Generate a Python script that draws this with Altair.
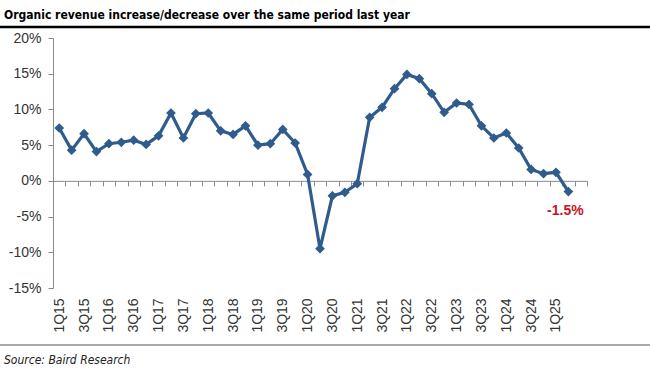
import altair as alt
import pandas as pd

quarters = [
    "1Q15", "2Q15", "3Q15", "4Q15", "1Q16", "2Q16", "3Q16", "4Q16",
    "1Q17", "2Q17", "3Q17", "4Q17", "1Q18", "2Q18", "3Q18", "4Q18",
    "1Q19", "2Q19", "3Q19", "4Q19", "1Q20", "2Q20", "3Q20", "4Q20",
    "1Q21", "2Q21", "3Q21", "4Q21", "1Q22", "2Q22", "3Q22", "4Q22",
    "1Q23", "2Q23", "3Q23", "4Q23", "1Q24", "2Q24", "3Q24", "4Q24",
    "1Q25", "2Q25",
]
growth = [
    7.4, 4.3, 6.6, 4.1, 5.2, 5.4, 5.7, 5.1,
    6.3, 9.5, 6.0, 9.4, 9.5, 7.0, 6.5, 7.7,
    5.0, 5.2, 7.2, 5.3, 0.9, -9.5, -2.1, -1.6,
    -0.4, 8.9, 10.3, 12.9, 14.9, 14.3, 12.2, 9.6,
    10.9, 10.7, 7.7, 6.0, 6.7, 4.6, 1.6, 1.0,
    1.2, -1.5,
]
# trailing empty slot on the category axis
domain = quarters + [" "]
y_ticks = [-15, -10, -5, 0, 5, 10, 15, 20]

title_text = "Organic revenue increase/decrease over the same period last year"
source_text = "Source: Baird Research"
callout_text = "-1.5%"

W, H = 534, 250
PAD_L, PAD_T = 53, 38
zero_px = H * 20 / 35

NARROW = "Liberation Sans Narrow, DejaVu Sans Condensed, Arial Narrow, Liberation Sans"

df = pd.DataFrame({"q": quarters, "v": growth})

x_enc = alt.X(
    "q:N",
    sort=domain,
    scale=alt.Scale(type="band", domain=domain, paddingInner=0, paddingOuter=0),
    axis=alt.Axis(
        title=None,
        orient="bottom",
        offset=-(H - zero_px),
        tickBand="extent",
        tickSize=5,
        tickColor="#8a8a8a",
        domainColor="#8a8a8a",
        labelAngle=-90,
        labelAlign="right",
        labelBaseline="middle",
        labelPadding=112,
        labelFont="Liberation Sans",
        labelFontSize=14,
        labelColor="#333333",
        labelExpr="test(/^[13]Q/, datum.value) ? datum.value : ''",
        labelOverlap=False,
        grid=False,
    ),
)
y_enc = alt.Y(
    "v:Q",
    scale=alt.Scale(domain=[-15, 20], nice=False, zero=False),
    axis=alt.Axis(
        title=None,
        values=y_ticks,
        tickCount=20,
        labelExpr="datum.value + '%'",
        labelOverlap=False,
        tickSize=5,
        tickColor="#8a8a8a",
        domainColor="#8a8a8a",
        labelPadding=7,
        labelFont="Liberation Sans",
        labelFontSize=14,
        labelColor="#333333",
        grid=False,
    ),
)

line = alt.Chart(df).mark_line(
    color="#2F5B8D", strokeWidth=3.2,
    point=alt.OverlayMarkDef(shape="diamond", size=95, filled=True, color="#2F5B8D", opacity=1),
).encode(x=x_enc, y=y_enc)

callout_df = pd.DataFrame({"q": [quarters[-1]], "v": [growth[-1]], "t": [callout_text]})
callout = alt.Chart(callout_df).mark_text(
    font="Liberation Sans", fontSize=14, fontWeight="bold", color="#C8141E",
    dy=19, dx=-3, baseline="middle", align="center",
).encode(x=alt.X("q:N", sort=domain), y="v:Q", text="t:N")

title = alt.Chart(pd.DataFrame({"t": [title_text]})).mark_text(
    font=NARROW, fontSize=12, fontWeight="bold", color="#000000",
    align="left", baseline="middle",
).encode(x=alt.value(-PAD_L + 4), y=alt.value(15 - PAD_T), text="t:N")

title_rule = alt.Chart(pd.DataFrame({"a": [0]})).mark_rule(color="#000000", strokeWidth=2.5).encode(
    x=alt.value(-PAD_L), x2=alt.value(650 - PAD_L), y=alt.value(27 - PAD_T)
)
source_rule = alt.Chart(pd.DataFrame({"a": [0]})).mark_rule(color="#8c8c8c", strokeWidth=1.5).encode(
    x=alt.value(-PAD_L), x2=alt.value(650 - PAD_L), y=alt.value(345 - PAD_T)
)
source = alt.Chart(pd.DataFrame({"t": [source_text]})).mark_text(
    font=NARROW, fontSize=12, fontStyle="italic", color="#222222",
    align="left", baseline="middle",
).encode(x=alt.value(-PAD_L + 4), y=alt.value(360 - PAD_T), text="t:N")

chart = alt.layer(line, callout, title, title_rule, source_rule, source).properties(
    width=W, height=H,
    autosize=alt.AutoSizeParams(type="none"),
    padding={"left": PAD_L, "top": PAD_T, "right": 650 - PAD_L - W, "bottom": 376 - PAD_T - H},
    background="#ffffff",
).configure_view(stroke=None)

chart.save("out.html", embed_options={"renderer": "svg", "actions": False})
